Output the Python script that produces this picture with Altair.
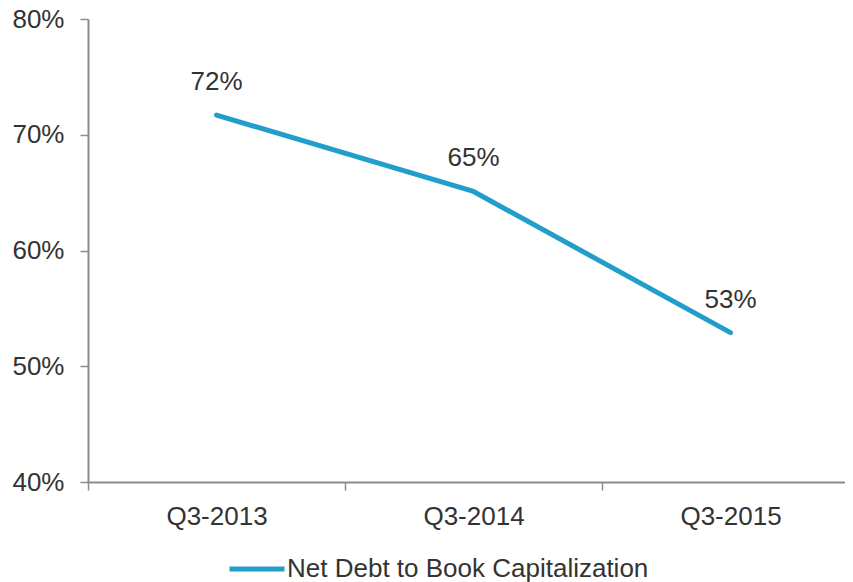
import altair as alt
import pandas as pd

quarters = ["Q3-2013", "Q3-2014", "Q3-2015"]
values = [0.717, 0.651, 0.529]
series = ["Net Debt to Book Capitalization"] * 3

df = pd.DataFrame({"quarter": quarters, "value": values, "series": series})

FONT = "Liberation Sans"
TEXT = "#333333"
LINE = "#219ECA"
AXIS = "#8C8C8C"

x = alt.X("quarter:N", sort=quarters, title=None,
          scale=alt.Scale(paddingInner=0, paddingOuter=0),
          axis=alt.Axis(labelAngle=0, labelFontSize=26, labelFont=FONT, labelColor=TEXT,
                        labelPadding=13, tickSize=8, tickColor=AXIS, domainColor=AXIS,
                        domainWidth=2, tickWidth=1.5, tickBand="extent", grid=False))
y = alt.Y("value:Q", title=None,
          scale=alt.Scale(domain=[0.4, 0.8], nice=False, zero=False),
          axis=alt.Axis(values=[0.4, 0.5, 0.6, 0.7, 0.8], format=".0%", labelFontSize=26,
                        labelFont=FONT, labelColor=TEXT, labelPadding=16, tickSize=8,
                        tickColor=AXIS, domainColor=AXIS, domainWidth=2, tickWidth=1.5,
                        grid=False))

line = alt.Chart(df).mark_line(strokeWidth=5, strokeCap="round", strokeJoin="round").encode(
    x=x, y=y,
    color=alt.Color("series:N", scale=alt.Scale(range=[LINE]),
                    legend=alt.Legend(title=None, orient="none", legendX=139, legendY=520,
                                      symbolType="stroke", symbolSize=3025,
                                      symbolStrokeWidth=5, labelFontSize=26, labelFont=FONT,
                                      labelColor=TEXT, labelOffset=0, labelLimit=600,
                                      padding=0)),
)

labels = alt.Chart(df).mark_text(fontSize=26, font=FONT, color=TEXT, baseline="middle",
                                 align="center", dy=-33).encode(
    x=x, y=y, text=alt.Text("value:Q", format=".0%"))

chart = alt.layer(line, labels).properties(
    width=771, height=463,
    padding={"left": 80, "top": 11, "right": -14, "bottom": 100},
    autosize=alt.AutoSizeParams(type="none"),
).configure_view(stroke=None)

chart.save("out.html", embed_options={"renderer": "svg", "actions": False})
